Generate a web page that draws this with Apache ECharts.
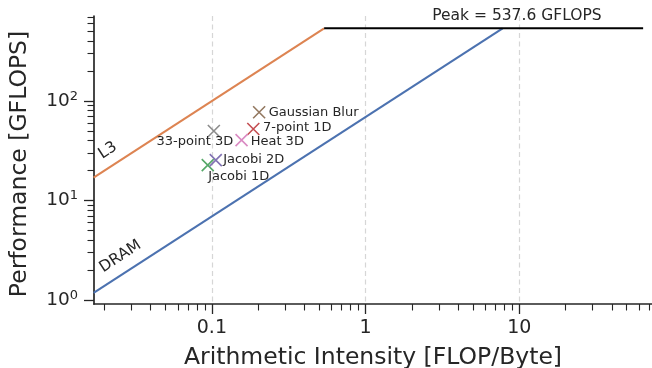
<!DOCTYPE html>
<html><head><meta charset="utf-8">
<script src="https://cdn.jsdelivr.net/npm/echarts@6/dist/echarts.min.js"></script>
<style>html,body{margin:0;padding:0;background:#fff}#c{width:652px;height:368px}</style>
</head><body><div id="c"></div>
<script>
// ---- data ----
const kernelNames = ['Jacobi 1D', '7-point 1D', 'Jacobi 2D', 'Gaussian Blur', 'Heat 3D', '33-point 3D'];
const kernelIntensity = [0.094, 0.186, 0.106, 0.203, 0.156, 0.103];
const kernelPerf = [22.7, 52.3, 25.5, 77.0, 40.5, 49.9];
const peakPerf = 537.6;
const dramLineX = [0.017, 7.8];
const dramLineY = [1.18, 537.6];
const l3LineX = [0.017, 0.5376];
const l3LineY = [17.0, 537.6];
const peakLineX = [0.5376, 64];
const peakLineY = [537.6, 537.6];
const xMajorTicks = [0.1, 1, 10];
const xTickLabels = ['0.1', '1', '10'];
const xMinorTicks = [0.02,0.03,0.04,0.05,0.06,0.07,0.08,0.09,0.2,0.3,0.4,0.5,0.6,0.7,0.8,0.9,2,3,4,5,6,7,8,9,20,30,40,50,60,70];
const yMajorTicks = [1, 10, 100];
const yTickExponents = ['0', '1', '2'];
const yMinorTicks = [2,3,4,5,6,7,8,9,20,30,40,50,60,70,80,90,200,300,400,500,600,700];
const xRange = [0.0171, 73.1];
const yRange = [0.912, 715];

// ---- styles ----
const FONT = 'DejaVu Sans';
const INK = '#262626';
const kernelColors = ['#55A868', '#C44E52', '#8172B3', '#937860', '#DA8BC3', '#8C8C8C'];
const kernelLabelPos = [
  {position: 'inside', offset: [31, 12]},
  {position: 'right', distance: 0, offset: [3, -1.3]},
  {position: 'right', distance: 0, offset: [0.6, 0]},
  {position: 'right', distance: 0, offset: [2.7, 0]},
  {position: 'right', distance: 0, offset: [2.3, 1.7]},
  {position: 'inside', offset: [-19, 11]}
];
const L = Math.log10;
const pts = (xs, ys) => xs.map((x, i) => [L(x), L(ys[i])]);
const near = (arr, v) => arr.findIndex(t => Math.abs(L(t) - v) < 1e-6);

const chart = echarts.init(document.getElementById('c'), null, {renderer: 'canvas'});
const MAJ = 10, MIN = 6.5;
const axisCommon = {
  type: 'value',
  axisLine: {show: true, onZero: false, lineStyle: {color: INK, width: 1.7}},
  splitLine: {show: false}
};
const noLine = {show: false, onZero: false};
const option = {
  animation: false,
  backgroundColor: '#ffffff',
  textStyle: {fontFamily: FONT},
  grid: {left: 94, right: 0, top: 16, bottom: 64, containLabel: false, outerBoundsMode: 'none'},
  xAxis: [
    Object.assign({}, axisCommon, {
      min: L(xRange[0]), max: L(xRange[1]), position: 'bottom',
      axisTick: {show: true, inside: false, length: MAJ, lineStyle: {color: INK, width: 1.3}, customValues: xMajorTicks.map(L)},
      axisLabel: {customValues: xMajorTicks.map(L), formatter: v => xTickLabels[near(xMajorTicks, v)] || '',
        fontSize: 19, color: INK, margin: 15, fontFamily: FONT},
      splitLine: {show: true, lineStyle: {color: '#d6d6d6', width: 1.2, type: [5, 3.5]}},
      name: 'Arithmetic Intensity [FLOP/Byte]', nameLocation: 'middle', nameGap: 41.5,
      nameTextStyle: {fontSize: 23.5, color: INK, fontFamily: FONT}
    }),
    Object.assign({}, axisCommon, {
      min: L(xRange[0]), max: L(xRange[1]), position: 'bottom',
      axisLine: noLine,
      axisTick: {show: true, inside: false, length: MIN, lineStyle: {color: INK, width: 1.1}, customValues: xMinorTicks.map(L)},
      axisLabel: {show: false}
    })
  ],
  yAxis: [
    Object.assign({}, axisCommon, {
      min: L(yRange[0]), max: L(yRange[1]), position: 'left',
      axisTick: {show: true, inside: false, length: MAJ, lineStyle: {color: INK, width: 1.3}, customValues: yMajorTicks.map(L)},
      axisLabel: {customValues: yMajorTicks.map(L),
        formatter: v => { const i = near(yMajorTicks, v); return i < 0 ? '' : '{b|10}{s|' + yTickExponents[i] + '}'; },
        color: INK, margin: 16, fontFamily: FONT,
        rich: {
          b: {fontSize: 18.5, lineHeight: 22, color: INK, fontFamily: FONT},
          s: {fontSize: 13, lineHeight: 14, verticalAlign: 'top', color: INK, fontFamily: FONT}
        }},
      name: 'Performance [GFLOPS]', nameLocation: 'middle', nameGap: 62.5,
      nameTextStyle: {fontSize: 23.5, color: INK, fontFamily: FONT, padding: [0, 8, 0, 0]}
    }),
    Object.assign({}, axisCommon, {
      min: L(yRange[0]), max: L(yRange[1]), position: 'left',
      axisLine: noLine,
      axisTick: {show: true, inside: false, length: MIN, lineStyle: {color: INK, width: 1.1}, customValues: yMinorTicks.map(L)},
      axisLabel: {show: false}
    })
  ],
  series: [
    {type: 'line', name: 'DRAM', data: pts(dramLineX, dramLineY), showSymbol: false, symbol: 'none', silent: true,
      lineStyle: {color: '#4C72B0', width: 2.1, opacity: 1}, z: 3},
    {type: 'line', name: 'L3', data: pts(l3LineX, l3LineY), showSymbol: false, symbol: 'none', silent: true,
      lineStyle: {color: '#DD8452', width: 2.1, opacity: 1}, z: 3},
    {type: 'line', name: 'Peak', data: pts(peakLineX, peakLineY), showSymbol: false, symbol: 'none', silent: true,
      lineStyle: {color: '#000000', width: 2.1, opacity: 1}, z: 3},
    {type: 'scatter', name: 'kernels', silent: true, z: 5,
      symbol: 'path://M0,0L10,10M10,0L0,10', symbolSize: 12,
      data: kernelNames.map((n, i) => ({
        value: [L(kernelIntensity[i]), L(kernelPerf[i])],
        itemStyle: {color: 'rgba(0,0,0,0)', borderColor: kernelColors[i], borderWidth: 1.6, opacity: 1},
        label: Object.assign({show: true, formatter: n, fontSize: 13, color: INK, opacity: 1, fontFamily: FONT}, kernelLabelPos[i])
      }))
    },
    {type: 'scatter', name: 'annotations', silent: true, z: 6, clip: false, symbolSize: 0,
      itemStyle: {opacity: 1},
      data: [
        {value: [L(0.0210), L(31.8)], label: {show: true, formatter: 'L3', rotate: 33, position: 'inside', fontSize: 15.5, color: INK, opacity: 1, fontFamily: FONT}},
        {value: [L(0.0254), L(2.74)], label: {show: true, formatter: 'DRAM', rotate: 33, position: 'inside', fontSize: 15.5, color: INK, opacity: 1, fontFamily: FONT}},
        {value: [L(9.66), L(715)], label: {show: true, formatter: 'Peak = ' + peakPerf + ' GFLOPS', position: 'inside', fontSize: 15.5, color: INK, opacity: 1, fontFamily: FONT}}
      ]
    }
  ]
};
chart.setOption(option);
</script></body></html>
